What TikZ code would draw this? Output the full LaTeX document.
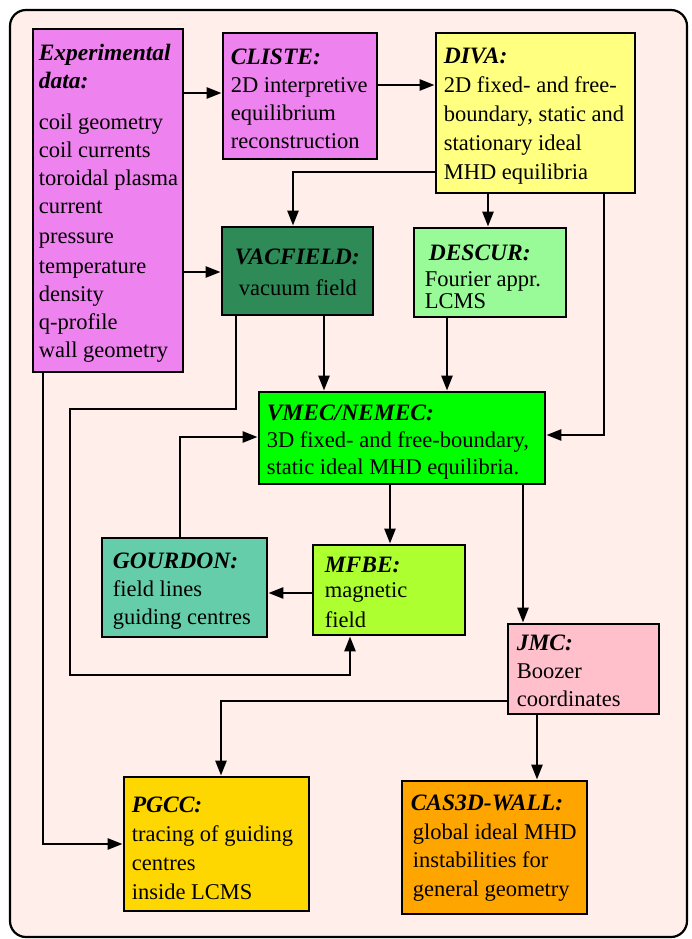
\documentclass[tikz,border=0pt]{standalone}
\usepackage{fontspec}
\setmainfont{Liberation Serif}
\usetikzlibrary{arrows.meta}
\definecolor{bgpink}{HTML}{FFEEE9}
\definecolor{cviolet}{HTML}{EE82EE}
\definecolor{cyellow}{HTML}{FFFF80}
\definecolor{cseagreen}{HTML}{2E8B57}
\definecolor{cpalegreen}{HTML}{98FB98}
\definecolor{clime}{HTML}{00FF00}
\definecolor{caqua}{HTML}{66CDAA}
\definecolor{cgreenyellow}{HTML}{ADFF2F}
\definecolor{cpink}{HTML}{FFC0CB}
\definecolor{cgold}{HTML}{FFD700}
\definecolor{corange}{HTML}{FFA500}
\newcommand{\ttl}[1]{{\fontsize{23.5}{28}\selectfont\bfseries\itshape #1}}
\tikzset{
  box/.style={draw=black, line width=2.8pt, inner sep=0pt},
  txt/.style={align=left, inner sep=0pt, anchor=west,
    font=\fontsize{22.5}{28}\selectfont},
  txtw/.style={align=left, inner sep=0pt, anchor=west,
    font=\fontsize{22.5}{29}\selectfont},
  arr/.style={line width=2.5pt, -{Triangle[length=15pt,width=11pt]}}
}
\begin{document}
\begin{tikzpicture}[x=1pt,y=-1pt]
\useasboundingbox (0,0) rectangle (691,939);
\draw[line width=2.2pt, rounded corners=16pt, fill=bgpink] (10,10) rectangle (687,937);

\node[box, fill=cviolet, minimum width=150pt, minimum height=343pt] (exp) at (108,200.5) {};
\node[txt] (expt) at ([xshift=7pt,yshift=-3pt]exp.west)
 {\ttl{Experimental}\\ \ttl{data:}\\[13pt] coil geometry\\ coil currents\\ toroidal plasma\\ current\\[2pt] pressure\\[2pt] temperature\\ density\\ q-profile\\ wall geometry};
\node[box, fill=cviolet, minimum width=154pt, minimum height=126pt] (cliste) at (300,96) {};
\node[txt] (clistet) at ([xshift=9pt,yshift=-3pt]cliste.west)
 {\ttl{CLISTE:}\\ 2D interpretive\\ equilibrium\\ reconstruction};
\node[box, fill=cyellow, minimum width=199pt, minimum height=160pt] (diva) at (535.5,113) {};
\node[txtw] (divat) at ([xshift=9pt,yshift=-3pt]diva.west)
 {\ttl{DIVA:}\\ 2D fixed- and free-\\ boundary, static and\\ stationary ideal\\ MHD equilibria};
\node[box, fill=cseagreen, minimum width=151pt, minimum height=88pt] (vac) at (297.5,271) {};
\node[txt] (vact) at ([xshift=14pt,yshift=-1pt]vac.west)
 {\ttl{VACFIELD:}\\[3pt] \hspace*{4pt}vacuum field};
\node[box, fill=cpalegreen, minimum width=152pt, minimum height=89pt] (descur) at (490,272.5) {};
\node[txt] (descurt) at ([xshift=12pt,yshift=-4pt]descur.west)
 {\hspace*{4pt}\ttl{DESCUR:}\\[-2pt] Fourier appr.\\[-6pt] LCMS};
\node[box, fill=clime, minimum width=286pt, minimum height=92pt] (vmec) at (402,438) {};
\node[txt] (vmect) at ([xshift=9pt,yshift=-4pt]vmec.west)
 {\ttl{VMEC/NEMEC:}\\[-1pt] 3D fixed- and free-boundary,\\[-1pt] static ideal MHD equilibria.};
\node[box, fill=caqua, minimum width=165pt, minimum height=99pt] (gourdon) at (184.5,587.5) {};
\node[txt] (gourdont) at ([xshift=12pt,yshift=-4pt]gourdon.west)
 {\ttl{GOURDON:}\\ field lines\\ guiding centres};
\node[box, fill=cgreenyellow, minimum width=152pt, minimum height=90pt] (mfbe) at (389,590) {};
\node[txt] (mfbet) at ([xshift=13pt,yshift=-2pt]mfbe.west)
 {\ttl{MFBE:}\\[-3pt] magnetic\\[2pt] field};
\node[box, fill=cpink, minimum width=151pt, minimum height=90pt] (jmc) at (583.5,669) {};
\node[txt] (jmct) at ([xshift=10pt,yshift=-2pt]jmc.west)
 {\ttl{JMC:}\\ Boozer\\ coordinates};
\node[box, fill=cgold, minimum width=185pt, minimum height=134pt] (pgcc) at (216.5,844) {};
\node[txtw] (pgcct) at ([xshift=9pt,yshift=-4pt]pgcc.west)
 {\ttl{PGCC:}\\ tracing of guiding\\ centres\\ inside LCMS};
\node[box, fill=corange, minimum width=185pt, minimum height=133pt] (cas) at (494.5,847.5) {};
\node[txtw] (cast) at ([xshift=10pt,yshift=-1pt]cas.west)
 {\ttl{CAS3D-WALL:}\\ \hspace*{2pt}global ideal MHD\\[-1pt] \hspace*{2pt}instabilities for\\ \hspace*{2pt}general geometry};

\draw[arr] (exp.east |- 0,93) -- (cliste.west |- 0,93);
\draw[arr] (cliste.east |- 0,85) -- (diva.west |- 0,85);
\draw[arr] (diva.west |- 0,172) -| (vac.north -| 293,0);
\draw[arr] (diva.south -| 488,0) -- (descur.north -| 488,0);
\draw[arr] (diva.south -| 604,0) |- (vmec.east |- 0,435);
\draw[arr] (exp.east |- 0,272) -- (vac.west |- 0,272);
\draw[arr] (vac.south -| 324,0) -- (vmec.north -| 324,0);
\draw[arr] (descur.south -| 447,0) -- (vmec.north -| 447,0);
\draw[arr] (vac.south -| 236,0) |- (70,409) |- (350,675) -- (mfbe.south -| 350,0);
\draw[arr] (gourdon.north -| 180,0) |- (vmec.west |- 0,437);
\draw[arr] (mfbe.west |- 0,593) -- (gourdon.east |- 0,593);
\draw[arr] (vmec.south -| 390,0) -- (mfbe.north -| 390,0);
\draw[arr] (vmec.south -| 523,0) -- (jmc.north -| 523,0);
\draw[arr] (jmc.west |- 0,701) -| (pgcc.north -| 221,0);
\draw[arr] (jmc.south -| 537,0) -- (cas.north -| 537,0);
\draw[arr] (exp.south -| 43,0) |- (pgcc.west |- 0,844);
\end{tikzpicture}
\end{document}
